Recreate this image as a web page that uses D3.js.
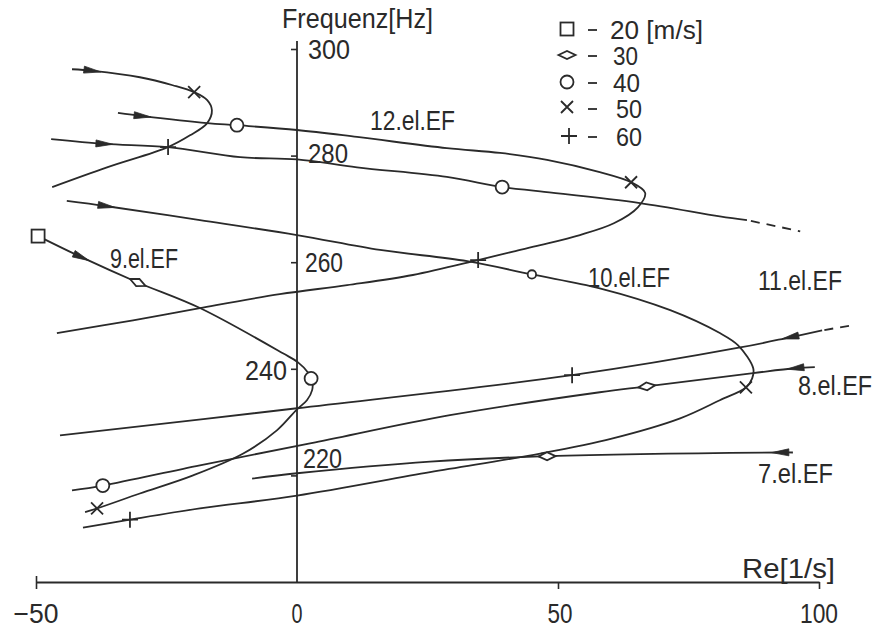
<!DOCTYPE html>
<html><head><meta charset="utf-8">
<script src="https://cdn.jsdelivr.net/npm/d3@7"></script>
<style>
html,body{margin:0;padding:0;background:#fff;}
svg text{font-family:"Liberation Sans",Arial,sans-serif;fill:#2a2a2a;}
</style>
</head><body>
<svg id="c" width="886" height="629"></svg>
<script>
// ---------- data (x = Re [1/s], y = Frequenz [Hz]) ----------
const xTicks = [-50, 0, 50, 100];
const yTicks = [220, 240, 260, 280, 300];
const speedLabels = ["20 [m/s]", "30", "40", "50", "60"];

// loci, listed in the direction of increasing flow speed
const efHook = [[-43.1,296.2],[-39.1,295.9],[-30.1,294.7],[-23.8,293.2],[-19.7,291.9],[-17.2,290.4],[-16.3,288.5],[-17.2,286.1],[-20.5,283.8],[-24.7,281.6],[-36.4,277.8],[-46.9,274.1]];
const ef12 = [[-34.3,288.0],[-29.5,287.4],[-17.2,286.1],[-11.5,285.7],[0,284.8],[11.5,283.5],[28.7,281.4],[38.9,280.5],[47.9,279.2],[58.0,276.9],[64.0,275.0],[66.7,273.0],[65.3,270.3],[60.7,267.3],[54.2,265.1],[46.6,263.2],[41.4,262.0],[34.7,260.4],[22.2,257.6],[9.6,255.7],[-3.3,254.0],[-18.6,251.4],[-31.4,249.1],[-46.0,246.7]];
const ef11a = [[-47.1,283.1],[-36.8,282.2],[-24.7,281.6],[-10.9,279.7],[0,279.3],[11.5,277.8],[28.7,276.0],[39.3,274.1],[46.6,273.3],[65.7,271.1],[81.0,268.6],[86.2,267.9]];
const ef11aDash = [[86.2,267.9],[96.4,265.8]];
const ef10 = [[-44.1,271.5],[-36.4,270.5],[-18.6,267.9],[0,265.1],[15.9,262.3],[32.6,260.2],[45.0,257.7],[58.0,255.1],[71.5,251.0],[81.0,246.7],[84.5,244.4],[87.4,240.1],[87.2,238.2],[86.0,236.5],[81.0,234.1],[73.4,230.7],[60.3,226.9],[46.6,224.1],[25.5,220.6],[0,216.2],[-18.6,213.8],[-32.0,211.7],[-41.0,210.2]];
const ef9 = [[-49.6,264.9],[-41.2,260.9],[-30.5,256.2],[-18.6,251.4],[-2.7,242.9],[0.2,241.2],[2.1,239.3],[2.9,237.8],[2.9,236.0],[1.9,234.1],[0,232.4],[-3.8,228.5],[-10.3,224.1],[-19.9,220.0],[-30.1,216.6],[-38.3,213.8],[-40.6,213.1]];
const ef11 = [[100.6,247.2],[94.4,245.9],[84.9,244.0],[52.7,238.8],[0,232.6],[-45.4,227.5]];
const ef11Dash = [[106.5,248.2],[100.6,247.2]];
const ef8 = [[99.2,240.3],[95.4,240.1],[87.4,239.2],[67.0,236.7],[58.0,235.6],[29.3,231.3],[2.5,226.0],[-18.6,221.9],[-37.2,218.1],[-43.1,217.2]];
const ef7 = [[95.0,224.3],[92.5,224.3],[47.9,223.6],[25.5,222.6],[0,220.4],[-8.6,219.4]];

// speed markers
const pts20 = [[-49.6,264.9]];
const pts30 = [[-30.5,256.2],[67.0,236.7],[47.9,223.6]];
const pts40 = [[-11.5,285.7],[39.3,274.1],[45.0,257.7],[2.7,238.2],[-37.2,218.1]];
const pts50 = [[-19.7,291.9],[64.0,275.0],[86.0,236.5],[-38.3,213.8]];
const pts60 = [[-24.7,281.6],[34.7,260.4],[52.7,238.8],[-32.0,211.7]];

const curveNames = ["12.el.EF","9.el.EF","10.el.EF","11.el.EF","8.el.EF","7.el.EF"];

// ---------- drawing ----------
const ink = "#2a2a2a";
const svg = d3.select("#c");
const x = d3.scaleLinear().domain([-50,100]).range([36,819]);
const y = d3.scaleLinear().domain([200,300]).range([582,49]);

function label(s, px, py, w, anchor, fs){
  const t = svg.append("text").attr("x",px).attr("y",py).attr("font-size",fs||27)
    .attr("text-anchor",anchor||"start").text(s);
  if (w) t.attr("textLength",w).attr("lengthAdjust","spacingAndGlyphs");
  return t;
}

// x axis
const gx = svg.append("g").attr("transform",`translate(0,${y(200)})`)
  .call(d3.axisBottom(x).tickValues(xTicks).tickSize(7).tickSizeOuter(0).tickFormat(""));
gx.select(".domain").attr("stroke",ink).attr("stroke-width",1.8);
gx.selectAll(".tick line").attr("stroke",ink).attr("stroke-width",1.6)
  .attr("y1",d=>d===-50?-6:0).attr("display",d=>d===0?"none":null);
const xLabW = {"-50":45,"0":11,"50":25,"100":38};
xTicks.forEach(v=>label(v<0?"\u2212"+Math.abs(v):String(v), x(v)+(v===50?2:0), 623, xLabW[v], "middle"));

// y axis
const gy = svg.append("g").attr("transform",`translate(${x(0)},0)`)
  .call(d3.axisLeft(y).tickValues(yTicks).tickSize(6).tickSizeOuter(0).tickFormat(""));
gy.select(".domain").attr("d",`M0,${y(200)}V${y(301.5)}`).attr("stroke",ink).attr("stroke-width",1.8);
gy.selectAll(".tick line").attr("stroke",ink).attr("stroke-width",1.6);
const yLab = {300:[11,10,42,"start"],280:[11,7.5,40,"start"],260:[8,10,38,"start"],240:[-10,11,42,"end"],220:[6,-7,39,"start"]};
yTicks.forEach(v=>{const o=yLab[v]; label(String(v), x(0)+o[0], y(v)+o[1], o[2], o[3]);});

label("Frequenz[Hz]", 282, 28, 151);
label("Re[1/s]", 742, 578, 93);

// curves
const line = d3.line().x(d=>x(d[0])).y(d=>y(d[1])).curve(d3.curveCatmullRom.alpha(0.5));
const curves = [efHook, ef12, ef11a, ef10, ef9, ef11, ef8, ef7];
svg.append("g").selectAll("path").data(curves).join("path")
  .attr("d",line).attr("fill","none").attr("stroke",ink).attr("stroke-width",1.8);
svg.append("g").selectAll("path").data([ef11aDash, ef11Dash]).join("path")
  .attr("d",line).attr("fill","none").attr("stroke",ink).attr("stroke-width",1.8)
  .attr("stroke-dasharray","9,7").attr("stroke-dashoffset",-4);

// arrowheads (at 2nd point of each locus, pointing along travel)
svg.append("g").selectAll("path").data(curves).join("path")
  .attr("fill",ink).attr("stroke",ink).attr("stroke-width",0.8)
  .attr("d",c=>{
    const a=[x(c[1][0]),y(c[1][1])], b=[x(c[2][0]),y(c[2][1])];
    const L=Math.hypot(b[0]-a[0],b[1]-a[1]); const ux=(b[0]-a[0])/L, uy=(b[1]-a[1])/L;
    const tip=[a[0]+ux*8,a[1]+uy*8], base=[a[0]-ux*9,a[1]-uy*9];
    return `M${tip}L${base[0]-uy*3.5},${base[1]+ux*3.5}L${base[0]+uy*3.5},${base[1]-ux*3.5}Z`;
  });

// local line angle for oriented diamonds
function segDist(p,a,b){const dx=b[0]-a[0],dy=b[1]-a[1];let t=((p[0]-a[0])*dx+(p[1]-a[1])*dy)/(dx*dx+dy*dy);t=Math.max(0,Math.min(1,t));return Math.hypot(p[0]-a[0]-t*dx,p[1]-a[1]-t*dy);}
function localAngle(p){let best=1e9,ang=0;curves.forEach(c=>{for(let i=0;i<c.length-1;i++){const a=[x(c[i][0]),y(c[i][1])],b=[x(c[i+1][0]),y(c[i+1][1])];const d=segDist(p,a,b);if(d<best){best=d;ang=Math.atan2(b[1]-a[1],b[0]-a[0])*180/Math.PI;}}});return ang;}

const mk = svg.append("g").attr("stroke",ink).attr("stroke-width",1.8);
function square(g,px,py){g.append("rect").attr("x",px-6.5).attr("y",py-6.5).attr("width",13).attr("height",13).attr("fill","#fff");}
function diamond(g,px,py,rot){g.append("path").attr("d","M-8.5,0L0,-4L8.5,0L0,4Z").attr("fill","#fff").attr("transform",`translate(${px},${py}) rotate(${rot})`);}
function circle(g,px,py,r){g.append("circle").attr("cx",px).attr("cy",py).attr("r",r).attr("fill","#fff");}
function cross(g,px,py){g.append("path").attr("d",`M${px-6},${py-6}L${px+6},${py+6}M${px-6},${py+6}L${px+6},${py-6}`);}
function plus(g,px,py){g.append("path").attr("d",`M${px-8},${py}H${px+8}M${px},${py-8}V${py+8}`);}

pts20.forEach(d=>square(mk,x(d[0]),y(d[1])));
pts30.forEach(d=>{const p=[x(d[0]),y(d[1])]; diamond(mk,p[0],p[1],localAngle(p));});
pts40.forEach((d,i)=>circle(mk,x(d[0]),y(d[1]),i===2?4.2:6.5));
pts50.forEach(d=>cross(mk,x(d[0]),y(d[1])));
pts60.forEach(d=>plus(mk,x(d[0]),y(d[1])));

// curve labels
const curveLabelPos = [[370,130,85],[110,268,68],[588,287,82],[758,290,84],[798,395,74],[758,483,75]];
curveNames.forEach((s,i)=>{const p=curveLabelPos[i]; label(s,p[0],p[1],p[2]);});

// legend
const legRows = [39,65,92,118,146];
const legTextX = [610,613,613,616,616];
const legW = [93,25,27,26,26];
const lg = svg.append("g").attr("stroke",ink).attr("stroke-width",1.8);
const symFns = [(px,py)=>square(lg,px,py),(px,py)=>diamond(lg,px,py,0),(px,py)=>circle(lg,px,py,6.5),(px,py)=>cross(lg,px,py-1),(px,py)=>plus(lg,px+2,py)];
speedLabels.forEach((s,i)=>{
  const by = legRows[i];
  symFns[i](567, by-10);
  lg.append("line").attr("x1",588).attr("x2",597).attr("y1",by-9).attr("y2",by-9);
  label(s, legTextX[i], by, legW[i], "start", 21.5).attr("transform",`translate(0,${by}) scale(1,1.18) translate(0,${-by})`);
});
</script>
</body></html>
